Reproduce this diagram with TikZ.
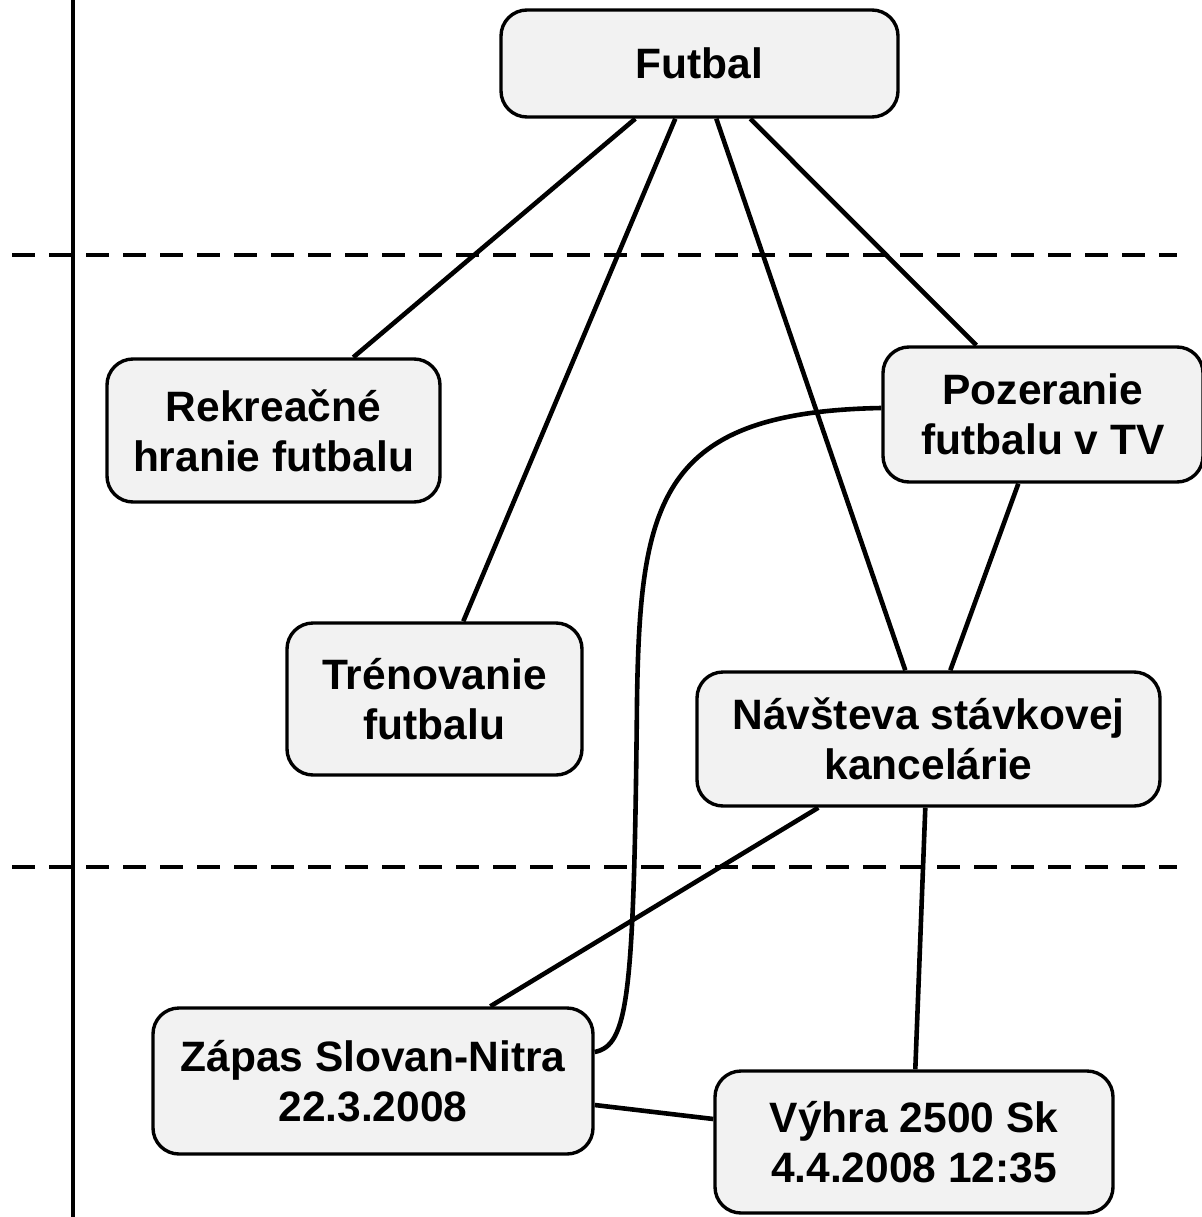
\documentclass[tikz,border=0pt]{standalone}
\usepackage{fontspec}
\setmainfont{Liberation Sans}
\usetikzlibrary{calc}
\definecolor{boxgray}{HTML}{F2F2F2}
\begin{document}
\begin{tikzpicture}[x=1pt,y=-1pt,
  box/.style={draw=black, line width=3.4pt, fill=boxgray, rounded corners=26pt,
    align=center, inner sep=0pt, font=\fontsize{42.5}{50}\selectfont\bfseries},
  conn/.style={line width=4.6pt},
  sepline/.style={line width=4pt, dash pattern=on 23pt off 14pt},
  axisline/.style={line width=3.8pt}]
\useasboundingbox (0,0) rectangle (1201,1217);

% separators
\coordinate (axtop) at (73,0);
\coordinate (axbot) at (73,1217);
\coordinate (d1l) at (12,255);
\coordinate (d1r) at (1177,255);
\coordinate (d2l) at (12,867);
\coordinate (d2r) at (1177,867);
\draw[axisline] (axtop) -- (axbot);
\draw[sepline] (d1l) -- (d1r);
\draw[sepline] (d2l) -- (d2r);

% nodes
\node[box, minimum width=397pt, minimum height=107pt] (fut) at (699.5,63.5) {Futbal};
\node[box, minimum width=333pt, minimum height=143pt] (rek) at (273.5,430.5) {Rekreačné\\hranie futbalu};
\node[box, minimum width=320pt, minimum height=135pt] (poz) at (1043,414.5) {Pozeranie\\futbalu v TV};
\node[box, minimum width=295pt, minimum height=152pt] (tre) at (434.5,699) {Trénovanie\\futbalu};
\node[box, minimum width=463pt, minimum height=134pt] (nav) at (928.5,739) {Návšteva stávkovej\\kancelárie};
\node[box, minimum width=440pt, minimum height=146pt] (zap) at (373,1081) {Zápas Slovan-Nitra\\22.3.2008};
\node[box, minimum width=398pt, minimum height=142pt] (vyh) at (914,1142) {Výhra 2500 Sk\\4.4.2008 12:35};

% connectors
\draw[conn] ($(fut.south west)+(136,0)$) -- ($(rek.north west)+(248,0)$);
\draw[conn] ($(fut.south west)+(176,0)$) -- ($(tre.north west)+(178,0)$);
\draw[conn] ($(fut.south west)+(217,0)$) -- ($(nav.north west)+(210,0)$);
\draw[conn] ($(fut.south west)+(251,0)$) -- ($(poz.north west)+(95,0)$);
\draw[conn] ($(poz.south west)+(137,0)$) -- ($(nav.north west)+(255,0)$);
\draw[conn] ($(nav.south west)+(123,0)$) -- ($(zap.north west)+(339,0)$);
\draw[conn] ($(nav.south west)+(230,0)$) -- ($(vyh.north west)+(202,0)$);
\draw[conn] ($(zap.east)+(0,24)$) -- ($(vyh.west)+(0,-23)$);
\draw[conn] ($(poz.west)+(0,-6.5)$) .. controls (660,412) and (640,500) .. (637,700)
  .. controls (634,1000) and (628,1045) .. ($(zap.east)+(0,-29)$);
\end{tikzpicture}
\end{document}
